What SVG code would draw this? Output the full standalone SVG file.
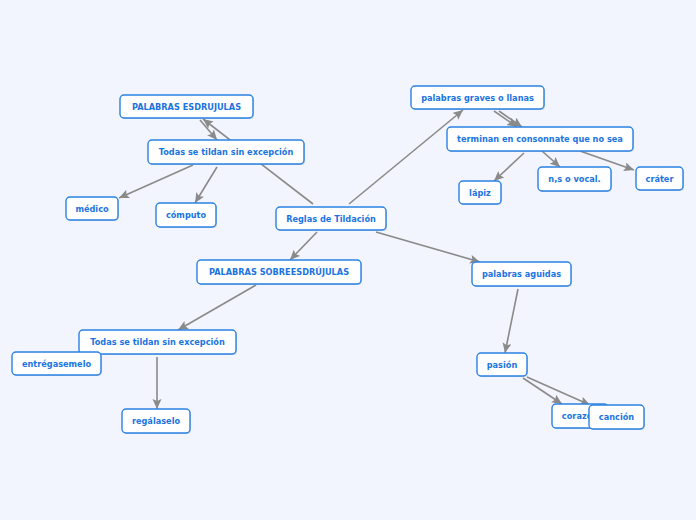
<svg xmlns="http://www.w3.org/2000/svg" width="696" height="520" viewBox="0 0 696 520">
<style>
.n rect.b{fill:#fff;stroke:#2a82e4;stroke-width:1.4}
.n rect.s{fill:#9aa4b4;opacity:0.45}
.n text{font-family:"DejaVu Sans",Verdana,sans-serif;font-weight:bold;font-size:8.2px;fill:#1b74e0;text-anchor:middle}
#connectors line{stroke:#8a8a8a;stroke-width:1.6;marker-end:url(#ah)}
</style>
<defs>
<marker id="ah" markerUnits="userSpaceOnUse" markerWidth="12" markerHeight="10" refX="10" refY="4.5" orient="auto">
<path d="M0,0 L10,4.5 L0,9 L2,4.5 z" fill="#8a8a8a"/>
</marker>
</defs>
<rect width="696" height="520" fill="#f2f5fd"/>
<g id="connectors">
<line x1="313" y1="204" x2="203" y2="119"/>
<line x1="200" y1="120" x2="217" y2="140"/>
<line x1="193" y1="165" x2="119" y2="198"/>
<line x1="217" y1="167" x2="195" y2="203"/>
<line x1="349" y1="204" x2="463" y2="110"/>
<line x1="494" y1="111" x2="517" y2="127"/>
<line x1="499" y1="111" x2="522" y2="127"/>
<line x1="524" y1="153" x2="494" y2="181"/>
<line x1="542" y1="151" x2="560" y2="167"/>
<line x1="580" y1="151" x2="634" y2="170"/>
<line x1="317" y1="232" x2="290" y2="260"/>
<line x1="376" y1="232" x2="480" y2="262"/>
<line x1="256" y1="285" x2="178" y2="330"/>
<line x1="157" y1="357" x2="157" y2="409"/>
<line x1="518" y1="289" x2="505" y2="353"/>
<line x1="523" y1="378" x2="562" y2="404"/>
<line x1="527" y1="377" x2="590" y2="405"/>
</g>
<g id="esdrujulas" class="n"><rect class="s" x="121" y="96" width="133" height="23" rx="4"/><rect class="b" x="120" y="95" width="133" height="23" rx="4"/><text x="186.5" y="109.5">PALABRAS ESDRUJULAS</text></g>
<g id="todas1" class="n"><rect class="s" x="149" y="141" width="156" height="24" rx="4"/><rect class="b" x="148" y="140" width="156" height="24" rx="4"/><text x="226" y="155">Todas se tildan sin excepción</text></g>
<g id="medico" class="n"><rect class="s" x="67" y="198" width="52" height="23" rx="4"/><rect class="b" x="66" y="197" width="52" height="23" rx="4"/><text x="92" y="211.5">médico</text></g>
<g id="computo" class="n"><rect class="s" x="157" y="204" width="60" height="24" rx="4"/><rect class="b" x="156" y="203" width="60" height="24" rx="4"/><text x="186" y="218">cómputo</text></g>
<g id="reglas" class="n"><rect class="s" x="277" y="208" width="110" height="23" rx="4"/><rect class="b" x="276" y="207" width="110" height="23" rx="4"/><text x="331" y="221.5">Reglas de Tildación</text></g>
<g id="graves" class="n"><rect class="s" x="412" y="87" width="133" height="23" rx="4"/><rect class="b" x="411" y="86" width="133" height="23" rx="4"/><text x="477.5" y="100.5">palabras graves o llanas</text></g>
<g id="terminan" class="n"><rect class="s" x="448" y="128" width="186" height="24" rx="4"/><rect class="b" x="447" y="127" width="186" height="24" rx="4"/><text x="540" y="142">terminan en consonnate que no sea</text></g>
<g id="lapiz" class="n"><rect class="s" x="460" y="182" width="42" height="23" rx="4"/><rect class="b" x="459" y="181" width="42" height="23" rx="4"/><text x="480" y="195.5">lápiz</text></g>
<g id="nsvocal" class="n"><rect class="s" x="539" y="168" width="73" height="24" rx="4"/><rect class="b" x="538" y="167" width="73" height="24" rx="4"/><text x="574.5" y="182">n,s o vocal.</text></g>
<g id="crater" class="n"><rect class="s" x="637" y="168" width="47" height="23" rx="4"/><rect class="b" x="636" y="167" width="47" height="23" rx="4"/><text x="659.5" y="181.5">cráter</text></g>
<g id="sobreesdrujulas" class="n"><rect class="s" x="198" y="261" width="164" height="24" rx="4"/><rect class="b" x="197" y="260" width="164" height="24" rx="4"/><text x="279" y="275">PALABRAS SOBREESDRÚJULAS</text></g>
<g id="aguidas" class="n"><rect class="s" x="473" y="263" width="99" height="24" rx="4"/><rect class="b" x="472" y="262" width="99" height="24" rx="4"/><text x="521.5" y="277">palabras aguidas</text></g>
<g id="todas2" class="n"><rect class="s" x="80" y="331" width="157" height="24" rx="4"/><rect class="b" x="79" y="330" width="157" height="24" rx="4"/><text x="157.5" y="345">Todas se tildan sin excepción</text></g>
<g id="entregasemelo" class="n"><rect class="s" x="13" y="353" width="89" height="23" rx="4"/><rect class="b" x="12" y="352" width="89" height="23" rx="4"/><text x="56.5" y="366.5">entrégasemelo</text></g>
<g id="regalaselo" class="n"><rect class="s" x="123" y="410" width="68" height="24" rx="4"/><rect class="b" x="122" y="409" width="68" height="24" rx="4"/><text x="156" y="424">regálaselo</text></g>
<g id="pasion" class="n"><rect class="s" x="478" y="354" width="50" height="23" rx="4"/><rect class="b" x="477" y="353" width="50" height="23" rx="4"/><text x="502" y="367.5">pasión</text></g>
<g id="corazon" class="n"><rect class="s" x="553" y="405" width="56" height="24" rx="4"/><rect class="b" x="552" y="404" width="56" height="24" rx="4"/><text x="580" y="419">corazón</text></g>
<g id="cancion" class="n"><rect class="s" x="590" y="406" width="55" height="24" rx="4"/><rect class="b" x="589" y="405" width="55" height="24" rx="4"/><text x="616.5" y="420">canción</text></g>
</svg>
